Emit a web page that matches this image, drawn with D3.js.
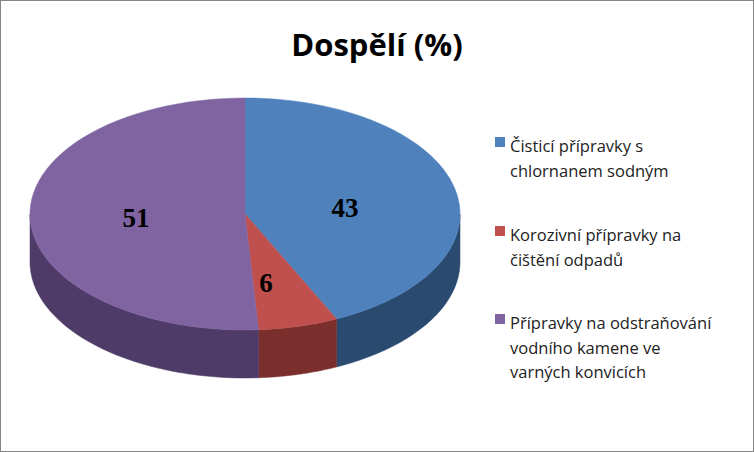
<!DOCTYPE html>
<html><head><meta charset="utf-8">
<script src="https://cdn.jsdelivr.net/npm/d3@7"></script>
<style>body{margin:0;background:#fff}</style></head>
<body><svg id="c" width="754" height="452"></svg>
<script>
const categories = ["Čisticí přípravky s chlornanem sodným","Korozivní přípravky na čištění odpadů","Přípravky na odstraňování vodního kamene ve varných konvicích"];
const legendLines = [["Čisticí přípravky s","chlornanem sodným"],["Korozivní přípravky na","čištění odpadů"],["Přípravky na odstraňování","vodního kamene ve","varných konvicích"]];
const values = [43,6,51];
const topColors = ["#4f81bd","#c0504d","#8064a2"];
const sideColors = ["#2b4a70","#7a2f2d","#4e3b68"];

const svg = d3.select("#c");
svg.append("rect").attr("x",0.5).attr("y",0.5).attr("width",753).attr("height",451).attr("fill","#fff").attr("stroke","#868686");
svg.append("text").attr("x",377).attr("y",56).attr("text-anchor","middle")
  .attr("font-family","Open Sans, Liberation Sans, sans-serif").attr("font-weight","bold").attr("font-size",31).text("Dospělí (%)");

const cx=245, cy=214, rx=215, ry=116, depth=48;
const pt=(a,dy=0)=>[cx+rx*Math.sin(a), cy-ry*Math.cos(a)+dy];
const arcs = d3.pie().sort(null)(values);
const line = d3.line();
const samp=(a1,a2,dy)=>{const n=60,p=[];for(let i=0;i<=n;i++)p.push(pt(a1+(a2-a1)*i/n,dy));return p;};

// sides
arcs.forEach((d,i)=>{
  const a1=Math.max(d.startAngle,Math.PI/2), a2=Math.min(d.endAngle,3*Math.PI/2);
  if(a2<=a1) return;
  const pts=samp(a1,a2,0).concat(samp(a2,a1,depth));
  svg.append("path").attr("d",line(pts)+"Z").attr("fill",sideColors[i]).attr("stroke",sideColors[i]).attr("stroke-width",0.5);
});
// tops
arcs.forEach((d,i)=>{
  const pts=[[cx,cy]].concat(samp(d.startAngle,d.endAngle,0));
  svg.append("path").attr("d",line(pts)+"Z").attr("fill",topColors[i]).attr("stroke",topColors[i]).attr("stroke-width",0.5);
});
// labels
const labelPos=[[345,217],[266,292],[136,227]];
arcs.forEach((d,i)=>{
  svg.append("text").attr("x",labelPos[i][0]).attr("y",labelPos[i][1]).attr("text-anchor","middle")
   .attr("font-family","Liberation Serif, serif").attr("font-weight","bold").attr("font-size",27).text(values[i]);
});
// legend
const ly=[146,235,323];
legendLines.forEach((ls,i)=>{
  svg.append("rect").attr("x",495).attr("y",ly[i]-9).attr("width",10).attr("height",10).attr("fill",topColors[i]);
  ls.forEach((t,j)=>svg.append("text").attr("x",510).attr("y",ly[i]+j*24.5+6)
    .attr("font-family","Open Sans, Liberation Sans, sans-serif").attr("font-size",16.5).attr("fill","#222").text(t));
});
</script></body></html>
